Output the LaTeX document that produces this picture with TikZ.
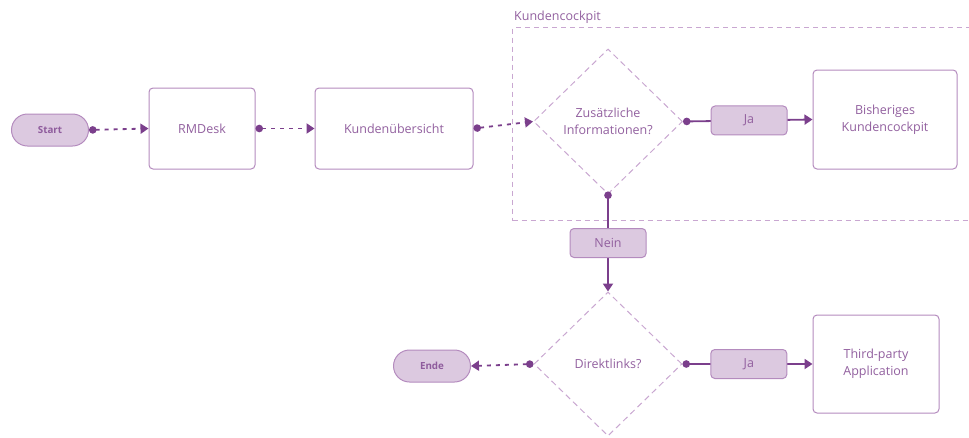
\documentclass[tikz,border=0pt]{standalone}
\usepackage{fontspec}
\setmainfont{Open Sans}
\usetikzlibrary{shapes.geometric,arrows.meta}
\definecolor{ink}{HTML}{7B3F8C}
\definecolor{frame}{HTML}{B48BBE}
\definecolor{soft}{HTML}{C9A7D1}
\definecolor{tint}{HTML}{DCC9E0}
\definecolor{txt}{HTML}{92609F}
\begin{document}
\begin{tikzpicture}[x=1pt,y=-1pt,
  every node/.style={font=\fontsize{12.5}{17}\selectfont, text=txt, align=center},
  terminal/.style={draw=frame, fill=tint, line width=1pt, rounded corners=16pt,
    minimum width=77pt, minimum height=32pt, inner sep=0pt,
    font=\fontsize{9.8}{12}\selectfont\bfseries, text=ink!85},
  process/.style={draw=frame, fill=white, line width=1pt, rounded corners=4pt, inner sep=0pt},
  decision/.style={draw=soft, dashed, dash pattern=on 6pt off 4pt, line width=1pt,
    shape=diamond, inner sep=0pt},
  answer/.style={draw=frame, fill=tint, line width=1pt, rounded corners=4pt,
    minimum width=76pt, minimum height=29pt, inner sep=0pt},
  dotted link/.style={draw=ink, line width=1.8pt, dash pattern=on 4pt off 5pt,
    {Circle[length=7.5pt]}-{Triangle[length=8pt,width=10pt]}},
  solid link/.style={draw=ink, line width=1.8pt,
    {Circle[length=7.5pt]}-{Triangle[length=8pt,width=10pt]}},
  group/.style={draw=soft, line width=1pt, dash pattern=on 5pt off 4pt, inner sep=0pt}]
\useasboundingbox (0,0) rectangle (969,437);

% customer cockpit group
\node[group, minimum width=470pt, minimum height=193pt, anchor=north west] (cockpit) at (512,27) {};
\node[anchor=south west, inner sep=0pt] (cockpitlabel) at (514,24) {Kundencockpit};

% main flow
\node[terminal] (start) at (50,130) {Start};
\node[process, minimum width=106pt, minimum height=81pt] (rmdesk) at (202,128.5) {RMDesk};
\node[process, minimum width=158pt, minimum height=81pt] (overview) at (394,128.5) {Kundenübersicht};
\node[decision, minimum width=149pt, minimum height=145pt] (extra) at (608,121.5) {Zusätzliche\\Informationen?};
\node[process, minimum width=144pt, minimum height=99pt] (cockpitold) at (885,119.5) {Bisheriges\\Kundencockpit};
\node[decision, minimum width=148pt, minimum height=144pt] (links) at (608,364) {Direktlinks?};
\node[terminal] (ende) at (432,366) {Ende};
\node[process, minimum width=126pt, minimum height=98pt] (thirdparty) at (876,364) {Third-party\\Application};

% connectors
\draw[dotted link] (start.east) -- (rmdesk.west);
\draw[dotted link] (rmdesk.east) -- (overview.west);
\draw[dotted link] (overview.east) -- (extra.west);
\draw[solid link] (extra.east) -- node[answer, pos=0.51] (yes1) {Ja} (cockpitold.west);
\draw[solid link, shorten <=-3pt] (extra.south) -- node[answer, pos=0.5] (no1) {Nein} (links.north);
\draw[dotted link] (links.west) -- (ende.east);
\draw[solid link] (links.east) -- node[answer, pos=0.51] (yes2) {Ja} (thirdparty.west);
\end{tikzpicture}
\end{document}
